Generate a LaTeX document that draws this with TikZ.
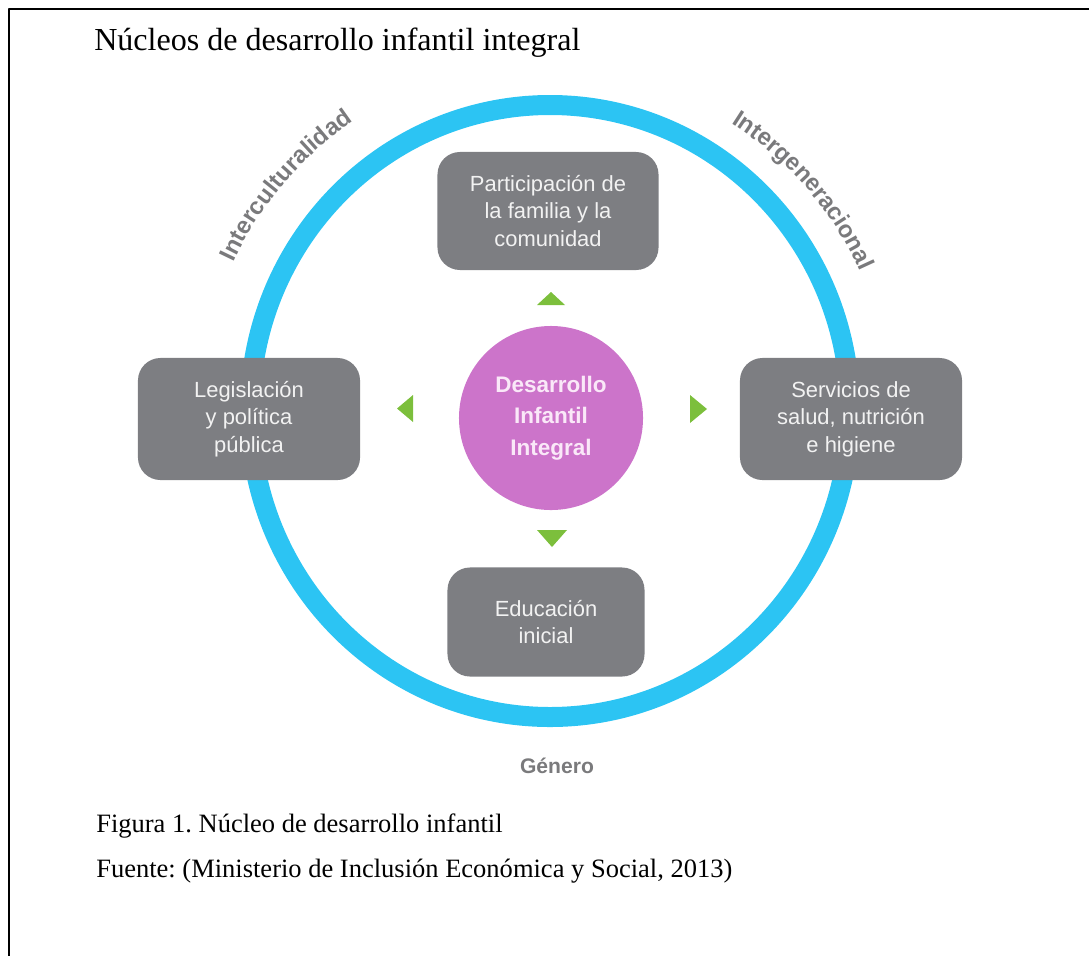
\documentclass[tikz,border=0pt]{standalone}
\usepackage{fontspec}
\setmainfont{Liberation Serif}
\setsansfont{Liberation Sans}
\usetikzlibrary{positioning,decorations.text}
\frenchspacing

\definecolor{anillo}{RGB}{44,196,243}
\definecolor{cajagris}{RGB}{125,126,130}
\definecolor{cajatexto}{RGB}{242,242,242}
\definecolor{morado}{RGB}{204,116,202}
\definecolor{moradotexto}{RGB}{250,232,248}
\definecolor{verde}{RGB}{124,191,60}
\definecolor{rotulo}{RGB}{122,122,124}

\newcommand\etiqueta{\color{rotulo}\sffamily\bfseries\fontsize{17}{20}\selectfont}

\begin{document}
\begin{tikzpicture}[x=0.025cm, y=0.025cm, line join=round,
  nucleo/.style={fill=cajagris, rounded corners=16pt, text=cajatexto, align=center, inner sep=0pt,
    font=\sffamily\fontsize{15.6}{19.6}\selectfont, minimum width=5.55cm, minimum height=3.05cm},
  leyenda/.style={anchor=base west, inner sep=0pt, font=\fontsize{18.85}{22}\selectfont}]
\def\rx{300} \def\ry{306} % semiejes del anillo
\useasboundingbox (0,0) rectangle (1089,-955);
% marco
\draw[line width=1.5pt] (9,-960) -- (9,-9) -- (1095,-9);
\node[anchor=base west, inner sep=0pt, font=\fontsize{22.8}{26}\selectfont] (titulo) at (94,-50) {Núcleos de desarrollo infantil integral};
% anillo exterior
\coordinate (o) at (550,-411);
\draw[anillo, line width=0.5cm] (o) ellipse [x radius=\rx, y radius=\ry];
\path[decorate, decoration={text along path, text align=center, text={|\etiqueta|Interculturalidad}}]
  (o) ++(174.5:350) arc[start angle=174.5, end angle=104.5, radius=350];
\path[decorate, decoration={text along path, text align=center, text={|\etiqueta|Intergeneracional}}]
  (o) ++(76:340) arc[start angle=76, end angle=6, radius=340];
\node[text=rotulo, font=\sffamily\bfseries\fontsize{15}{18}\selectfont] (genero) at (557,-766) {Género};
% centro y nucleos
\node[circle, fill=morado, minimum size=4.6cm, inner sep=0pt, text=moradotexto, align=center,
  font=\sffamily\bfseries\fontsize{16}{22.5}\selectfont] (centro) at (551,-418) {Desarrollo\\Infantil\\Integral};
\node[nucleo, minimum width=5.525cm, minimum height=2.95cm] (familia) at (548,-211) {Participación de\\la familia y la\\comunidad};
\node[nucleo] (legislacion) at (249,-419) {Legislación\\y política\\pública};
\node[nucleo] (salud) at (851,-419) {Servicios de\\salud, nutrición\\e higiene};
\node[nucleo, minimum width=4.925cm, minimum height=2.725cm] (educacion) at (546,-622) {Educación\\inicial};
% flechas verdes
\fill[verde] (537,-305) -- (565,-305) -- (551,-292) -- cycle;
\fill[verde] (413,-395) -- (413,-422) -- (397,-408.5) -- cycle;
\fill[verde] (690,-395) -- (690,-423) -- (707,-409) -- cycle;
\fill[verde] (537,-530) -- (567,-530) -- (552,-547) -- cycle;
% pie de figura
\node[leyenda] (figura) at (96,-832) {Figura 1. Núcleo de desarrollo infantil};
\node[leyenda] (fuente) at (96,-877) {Fuente: (Ministerio de Inclusión Económica y Social, 2013)};
\end{tikzpicture}
\end{document}
